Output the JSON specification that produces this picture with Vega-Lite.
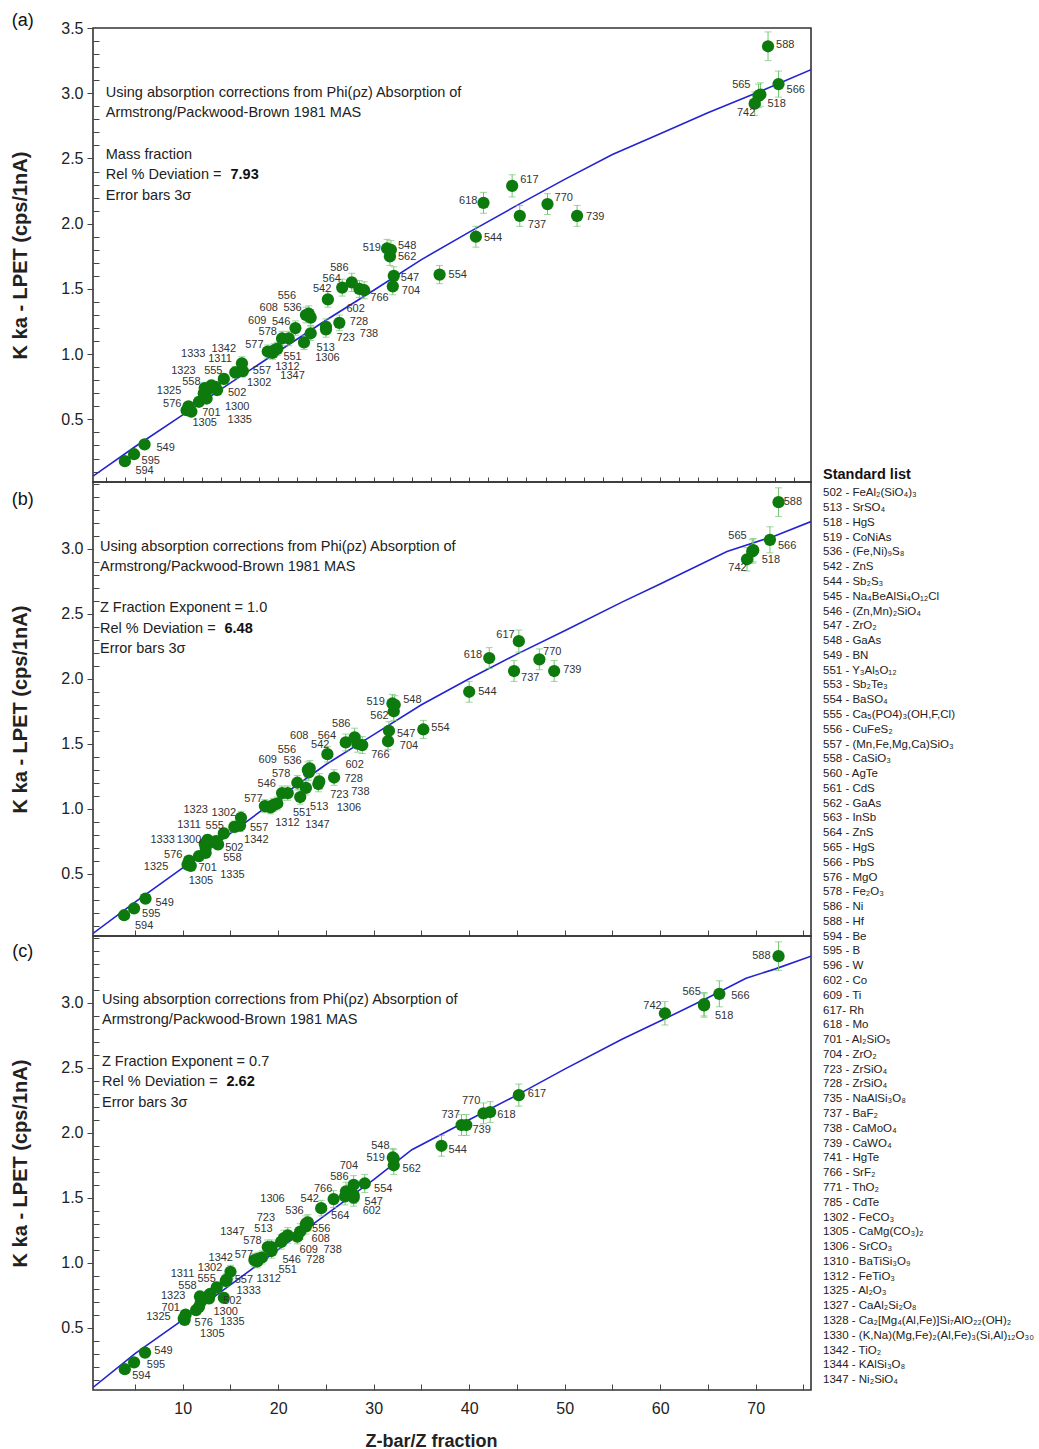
{
"$schema": "https://vega.github.io/schema/vega-lite/v6.json",
"background": "white",
"padding": {"left": 9, "top": 10, "right": 2, "bottom": 5},
"config": {
  "font": "Liberation Sans",
  "view": {"stroke": "#333", "strokeWidth": 1.6},
  "axis": {"labelFont": "Liberation Sans", "titleFont": "Liberation Sans", "labelColor": "#222", "titleColor": "#222", "tickColor": "#444", "grid": false, "domain": false, "labelFlush": false}
},
"datasets": {
  "curve": [
    {"p":"a","x":0.6,"y":0.065},{"p":"a","x":5,"y":0.29},{"p":"a","x":10,"y":0.535},{"p":"a","x":15,"y":0.78},{"p":"a","x":20,"y":1.02},{"p":"a","x":25,"y":1.26},{"p":"a","x":30,"y":1.49},{"p":"a","x":35,"y":1.725},{"p":"a","x":40,"y":1.935},{"p":"a","x":45,"y":2.14},{"p":"a","x":50,"y":2.34},{"p":"a","x":55,"y":2.53},{"p":"a","x":60,"y":2.69},{"p":"a","x":65,"y":2.85},{"p":"a","x":70,"y":3.0},{"p":"a","x":75.8,"y":3.18},
    {"p":"b","x":0.6,"y":0.04},{"p":"b","x":5,"y":0.28},{"p":"b","x":10,"y":0.545},{"p":"b","x":15,"y":0.81},{"p":"b","x":20,"y":1.08},{"p":"b","x":25,"y":1.34},{"p":"b","x":30,"y":1.57},{"p":"b","x":35,"y":1.8},{"p":"b","x":40,"y":2.0},{"p":"b","x":45,"y":2.19},{"p":"b","x":50,"y":2.37},{"p":"b","x":56,"y":2.59},{"p":"b","x":60,"y":2.73},{"p":"b","x":67,"y":2.98},{"p":"b","x":72,"y":3.1},{"p":"b","x":75.8,"y":3.21},
    {"p":"c","x":0.6,"y":0.04},{"p":"c","x":5,"y":0.3},{"p":"c","x":10,"y":0.56},{"p":"c","x":20,"y":1.1},{"p":"c","x":30,"y":1.64},{"p":"c","x":34,"y":1.87},{"p":"c","x":40,"y":2.1},{"p":"c","x":45,"y":2.29},{"p":"c","x":50,"y":2.49},{"p":"c","x":56,"y":2.72},{"p":"c","x":60,"y":2.86},{"p":"c","x":65,"y":3.04},{"p":"c","x":69,"y":3.19},{"p":"c","x":72,"y":3.26},{"p":"c","x":75.8,"y":3.36}
  ],
  "pts": [
    {"p":"a","id":"594","x":3.94,"y":0.18,"e":0.02,"lx":6.0,"ly":0.105},
    {"p":"a","id":"595","x":4.9,"y":0.233,"e":0.02,"lx":6.65,"ly":0.18},
    {"p":"a","id":"549","x":6.0,"y":0.308,"e":0.02,"lx":8.2,"ly":0.28},
    {"p":"a","id":"576","x":10.4,"y":0.57,"e":0.03,"lx":8.9,"ly":0.62},
    {"p":"a","id":"1325","x":10.6,"y":0.6,"e":0.03,"lx":8.57,"ly":0.72},
    {"p":"a","id":"1305","x":10.9,"y":0.56,"e":0.03,"lx":12.3,"ly":0.47},
    {"p":"a","id":"701","x":11.7,"y":0.635,"e":0.035,"lx":13.0,"ly":0.546},
    {"p":"a","id":"1323","x":12.2,"y":0.7,"e":0.035,"lx":10.07,"ly":0.874},
    {"p":"a","id":"558","x":12.3,"y":0.74,"e":0.04,"lx":10.9,"ly":0.785},
    {"p":"a","id":"1300","x":12.5,"y":0.66,"e":0.035,"lx":15.7,"ly":0.597},
    {"p":"a","id":"1333","x":12.6,"y":0.73,"e":0.04,"lx":11.1,"ly":1.0},
    {"p":"a","id":"1311","x":13.0,"y":0.76,"e":0.04,"lx":13.9,"ly":0.96},
    {"p":"a","id":"555","x":13.4,"y":0.75,"e":0.04,"lx":13.2,"ly":0.87},
    {"p":"a","id":"502","x":13.6,"y":0.725,"e":0.04,"lx":15.7,"ly":0.7},
    {"p":"a","id":"1335","x":14.3,"y":0.81,"e":0.04,"lx":15.97,"ly":0.495},
    {"p":"a","id":"1302","x":15.5,"y":0.86,"e":0.045,"lx":18.0,"ly":0.777},
    {"p":"a","id":"557","x":16.3,"y":0.87,"e":0.045,"lx":18.3,"ly":0.874},
    {"p":"a","id":"1342","x":16.2,"y":0.93,"e":0.05,"lx":14.3,"ly":1.043},
    {"p":"a","id":"577","x":18.9,"y":1.02,"e":0.05,"lx":17.5,"ly":1.07},
    {"p":"a","id":"551","x":19.4,"y":1.01,"e":0.05,"lx":21.5,"ly":0.977},
    {"p":"a","id":"1347","x":19.6,"y":1.03,"e":0.05,"lx":21.5,"ly":0.833},
    {"p":"a","id":"1312","x":19.9,"y":1.04,"e":0.05,"lx":20.96,"ly":0.905},
    {"p":"a","id":"578","x":20.4,"y":1.12,"e":0.055,"lx":18.9,"ly":1.166},
    {"p":"a","id":"546","x":21.1,"y":1.12,"e":0.055,"lx":20.3,"ly":1.25},
    {"p":"a","id":"609","x":21.8,"y":1.2,"e":0.055,"lx":17.8,"ly":1.256},
    {"p":"a","id":"513","x":22.7,"y":1.09,"e":0.055,"lx":24.97,"ly":1.046},
    {"p":"a","id":"608","x":22.9,"y":1.3,"e":0.06,"lx":19.0,"ly":1.354},
    {"p":"a","id":"536","x":23.2,"y":1.31,"e":0.06,"lx":21.5,"ly":1.354},
    {"p":"a","id":"556","x":23.4,"y":1.28,"e":0.06,"lx":20.9,"ly":1.448},
    {"p":"a","id":"1306","x":23.4,"y":1.16,"e":0.055,"lx":25.15,"ly":0.97},
    {"p":"a","id":"723","x":25.0,"y":1.19,"e":0.06,"lx":27.07,"ly":1.123},
    {"p":"a","id":"738","x":25.0,"y":1.21,"e":0.06,"lx":29.5,"ly":1.156},
    {"p":"a","id":"542","x":25.2,"y":1.42,"e":0.06,"lx":24.6,"ly":1.5},
    {"p":"a","id":"728","x":26.4,"y":1.24,"e":0.06,"lx":28.46,"ly":1.243},
    {"p":"a","id":"564","x":26.7,"y":1.51,"e":0.065,"lx":25.6,"ly":1.575},
    {"p":"a","id":"586","x":27.7,"y":1.55,"e":0.07,"lx":26.4,"ly":1.66},
    {"p":"a","id":"602","x":28.5,"y":1.5,"e":0.065,"lx":28.1,"ly":1.348},
    {"p":"a","id":"766","x":29.0,"y":1.49,"e":0.065,"lx":30.6,"ly":1.43},
    {"p":"a","id":"519","x":31.4,"y":1.81,"e":0.07,"lx":29.8,"ly":1.81},
    {"p":"a","id":"562","x":31.7,"y":1.75,"e":0.07,"lx":33.5,"ly":1.746},
    {"p":"a","id":"548","x":31.8,"y":1.8,"e":0.07,"lx":33.5,"ly":1.828},
    {"p":"a","id":"704","x":32.0,"y":1.52,"e":0.065,"lx":33.9,"ly":1.485},
    {"p":"a","id":"547","x":32.1,"y":1.6,"e":0.07,"lx":33.8,"ly":1.585},
    {"p":"a","id":"554","x":36.9,"y":1.61,"e":0.07,"lx":38.8,"ly":1.61},
    {"p":"a","id":"544","x":40.7,"y":1.9,"e":0.08,"lx":42.5,"ly":1.89},
    {"p":"a","id":"618","x":41.5,"y":2.16,"e":0.08,"lx":39.9,"ly":2.174},
    {"p":"a","id":"617","x":44.5,"y":2.29,"e":0.085,"lx":46.3,"ly":2.333},
    {"p":"a","id":"737","x":45.3,"y":2.06,"e":0.08,"lx":47.1,"ly":1.99},
    {"p":"a","id":"770","x":48.2,"y":2.15,"e":0.08,"lx":49.9,"ly":2.195},
    {"p":"a","id":"739","x":51.3,"y":2.06,"e":0.08,"lx":53.2,"ly":2.05},
    {"p":"a","id":"742","x":69.9,"y":2.92,"e":0.09,"lx":69.0,"ly":2.846},
    {"p":"a","id":"565","x":70.3,"y":2.98,"e":0.09,"lx":68.5,"ly":3.066},
    {"p":"a","id":"518","x":70.5,"y":2.99,"e":0.09,"lx":72.2,"ly":2.92},
    {"p":"a","id":"588","x":71.3,"y":3.36,"e":0.11,"lx":73.1,"ly":3.37},
    {"p":"a","id":"566","x":72.4,"y":3.07,"e":0.1,"lx":74.2,"ly":3.025},

    {"p":"b","id":"594","x":3.86,"y":0.18,"e":0.02,"lx":5.95,"ly":0.1},
    {"p":"b","id":"595","x":4.9,"y":0.233,"e":0.02,"lx":6.7,"ly":0.19},
    {"p":"b","id":"549","x":6.1,"y":0.308,"e":0.02,"lx":8.1,"ly":0.275},
    {"p":"b","id":"576","x":10.5,"y":0.57,"e":0.03,"lx":9.0,"ly":0.64},
    {"p":"b","id":"1325","x":10.66,"y":0.6,"e":0.03,"lx":7.2,"ly":0.55},
    {"p":"b","id":"1305","x":10.84,"y":0.56,"e":0.03,"lx":11.9,"ly":0.44},
    {"p":"b","id":"701","x":11.7,"y":0.635,"e":0.035,"lx":12.6,"ly":0.54},
    {"p":"b","id":"1323","x":12.4,"y":0.7,"e":0.035,"lx":11.36,"ly":0.992},
    {"p":"b","id":"558","x":13.4,"y":0.74,"e":0.04,"lx":15.2,"ly":0.62},
    {"p":"b","id":"1300","x":12.4,"y":0.66,"e":0.035,"lx":10.66,"ly":0.756},
    {"p":"b","id":"1333","x":12.3,"y":0.73,"e":0.04,"lx":7.9,"ly":0.756},
    {"p":"b","id":"1311","x":12.6,"y":0.76,"e":0.04,"lx":10.66,"ly":0.877},
    {"p":"b","id":"555","x":13.5,"y":0.75,"e":0.04,"lx":13.35,"ly":0.87},
    {"p":"b","id":"502","x":13.7,"y":0.725,"e":0.04,"lx":15.4,"ly":0.7},
    {"p":"b","id":"1335","x":14.3,"y":0.81,"e":0.04,"lx":15.2,"ly":0.487},
    {"p":"b","id":"1302","x":15.4,"y":0.86,"e":0.045,"lx":14.3,"ly":0.97},
    {"p":"b","id":"557","x":16.0,"y":0.87,"e":0.045,"lx":18.0,"ly":0.85},
    {"p":"b","id":"1342","x":16.1,"y":0.93,"e":0.05,"lx":17.7,"ly":0.756},
    {"p":"b","id":"577","x":18.6,"y":1.02,"e":0.05,"lx":17.4,"ly":1.077},
    {"p":"b","id":"551","x":19.2,"y":1.01,"e":0.05,"lx":22.5,"ly":0.967},
    {"p":"b","id":"1347","x":19.5,"y":1.03,"e":0.05,"lx":24.1,"ly":0.877},
    {"p":"b","id":"1312","x":19.9,"y":1.04,"e":0.05,"lx":20.96,"ly":0.89},
    {"p":"b","id":"578","x":20.4,"y":1.12,"e":0.055,"lx":20.3,"ly":1.27},
    {"p":"b","id":"546","x":21.0,"y":1.12,"e":0.055,"lx":18.8,"ly":1.19},
    {"p":"b","id":"609","x":22.0,"y":1.2,"e":0.055,"lx":18.9,"ly":1.377},
    {"p":"b","id":"513","x":22.3,"y":1.09,"e":0.055,"lx":24.3,"ly":1.013},
    {"p":"b","id":"608","x":23.1,"y":1.3,"e":0.06,"lx":22.2,"ly":1.56},
    {"p":"b","id":"536","x":23.3,"y":1.31,"e":0.06,"lx":21.5,"ly":1.37},
    {"p":"b","id":"556","x":23.2,"y":1.28,"e":0.06,"lx":20.9,"ly":1.45},
    {"p":"b","id":"1306","x":22.9,"y":1.16,"e":0.055,"lx":27.4,"ly":1.005},
    {"p":"b","id":"723","x":24.2,"y":1.19,"e":0.06,"lx":26.4,"ly":1.108},
    {"p":"b","id":"738","x":24.3,"y":1.21,"e":0.06,"lx":28.6,"ly":1.125},
    {"p":"b","id":"542","x":25.15,"y":1.42,"e":0.06,"lx":24.4,"ly":1.487},
    {"p":"b","id":"728","x":25.85,"y":1.24,"e":0.06,"lx":27.9,"ly":1.228},
    {"p":"b","id":"564","x":27.07,"y":1.51,"e":0.065,"lx":25.1,"ly":1.56},
    {"p":"b","id":"586","x":28.0,"y":1.55,"e":0.07,"lx":26.6,"ly":1.65},
    {"p":"b","id":"602","x":28.3,"y":1.5,"e":0.065,"lx":28.0,"ly":1.34},
    {"p":"b","id":"766","x":28.8,"y":1.49,"e":0.065,"lx":30.7,"ly":1.415},
    {"p":"b","id":"519","x":31.96,"y":1.81,"e":0.07,"lx":30.2,"ly":1.82},
    {"p":"b","id":"562","x":32.1,"y":1.75,"e":0.07,"lx":30.6,"ly":1.71},
    {"p":"b","id":"548","x":32.2,"y":1.8,"e":0.07,"lx":34.05,"ly":1.84},
    {"p":"b","id":"704","x":31.5,"y":1.52,"e":0.065,"lx":33.7,"ly":1.485},
    {"p":"b","id":"547","x":31.6,"y":1.6,"e":0.07,"lx":33.4,"ly":1.575},
    {"p":"b","id":"554","x":35.2,"y":1.61,"e":0.07,"lx":37.0,"ly":1.62},
    {"p":"b","id":"544","x":40.0,"y":1.9,"e":0.08,"lx":41.9,"ly":1.9},
    {"p":"b","id":"618","x":42.1,"y":2.16,"e":0.08,"lx":40.4,"ly":2.18},
    {"p":"b","id":"617","x":45.2,"y":2.29,"e":0.085,"lx":43.8,"ly":2.34},
    {"p":"b","id":"737","x":44.7,"y":2.06,"e":0.08,"lx":46.4,"ly":2.005},
    {"p":"b","id":"770","x":47.35,"y":2.15,"e":0.08,"lx":48.7,"ly":2.205},
    {"p":"b","id":"739","x":48.9,"y":2.06,"e":0.08,"lx":50.8,"ly":2.07},
    {"p":"b","id":"742","x":69.1,"y":2.92,"e":0.09,"lx":68.1,"ly":2.85},
    {"p":"b","id":"565","x":69.65,"y":2.98,"e":0.09,"lx":68.1,"ly":3.1},
    {"p":"b","id":"518","x":69.75,"y":2.99,"e":0.09,"lx":71.6,"ly":2.915},
    {"p":"b","id":"588","x":72.4,"y":3.36,"e":0.11,"lx":73.9,"ly":3.36},
    {"p":"b","id":"566","x":71.5,"y":3.07,"e":0.1,"lx":73.3,"ly":3.02},

    {"p":"c","id":"594","x":3.93,"y":0.18,"e":0.02,"lx":5.67,"ly":0.125},
    {"p":"c","id":"595","x":4.9,"y":0.233,"e":0.02,"lx":7.2,"ly":0.215},
    {"p":"c","id":"549","x":6.05,"y":0.308,"e":0.02,"lx":7.98,"ly":0.318},
    {"p":"c","id":"576","x":10.1,"y":0.57,"e":0.03,"lx":12.2,"ly":0.536},
    {"p":"c","id":"1325","x":10.3,"y":0.6,"e":0.03,"lx":7.45,"ly":0.58},
    {"p":"c","id":"1305","x":10.2,"y":0.56,"e":0.03,"lx":13.1,"ly":0.449},
    {"p":"c","id":"701","x":11.4,"y":0.635,"e":0.035,"lx":8.74,"ly":0.655},
    {"p":"c","id":"1323","x":11.9,"y":0.7,"e":0.035,"lx":9.0,"ly":0.745},
    {"p":"c","id":"558","x":11.8,"y":0.74,"e":0.04,"lx":10.5,"ly":0.82},
    {"p":"c","id":"1300","x":11.7,"y":0.66,"e":0.035,"lx":14.5,"ly":0.62},
    {"p":"c","id":"1333","x":14.3,"y":0.73,"e":0.04,"lx":16.9,"ly":0.78},
    {"p":"c","id":"1311","x":12.9,"y":0.76,"e":0.04,"lx":9.97,"ly":0.915},
    {"p":"c","id":"555","x":12.75,"y":0.75,"e":0.04,"lx":12.5,"ly":0.872},
    {"p":"c","id":"502","x":12.75,"y":0.725,"e":0.04,"lx":15.2,"ly":0.705},
    {"p":"c","id":"1335","x":13.56,"y":0.81,"e":0.04,"lx":15.2,"ly":0.544},
    {"p":"c","id":"1302","x":14.5,"y":0.86,"e":0.045,"lx":12.86,"ly":0.962},
    {"p":"c","id":"557","x":14.6,"y":0.87,"e":0.045,"lx":16.4,"ly":0.87},
    {"p":"c","id":"1342","x":15.0,"y":0.93,"e":0.05,"lx":13.98,"ly":1.038},
    {"p":"c","id":"577","x":17.5,"y":1.02,"e":0.05,"lx":16.4,"ly":1.06},
    {"p":"c","id":"551","x":17.8,"y":1.01,"e":0.05,"lx":21.0,"ly":0.945},
    {"p":"c","id":"1347","x":17.9,"y":1.03,"e":0.05,"lx":15.2,"ly":1.24},
    {"p":"c","id":"1312","x":18.3,"y":1.04,"e":0.05,"lx":19.0,"ly":0.875},
    {"p":"c","id":"578","x":18.9,"y":1.12,"e":0.055,"lx":17.3,"ly":1.164},
    {"p":"c","id":"546","x":19.3,"y":1.12,"e":0.055,"lx":21.4,"ly":1.023},
    {"p":"c","id":"609","x":22.0,"y":1.2,"e":0.055,"lx":23.2,"ly":1.1},
    {"p":"c","id":"513","x":19.3,"y":1.09,"e":0.055,"lx":18.45,"ly":1.256},
    {"p":"c","id":"608","x":22.9,"y":1.3,"e":0.06,"lx":24.45,"ly":1.185},
    {"p":"c","id":"536","x":23.1,"y":1.31,"e":0.06,"lx":21.7,"ly":1.395},
    {"p":"c","id":"556","x":22.9,"y":1.28,"e":0.06,"lx":24.5,"ly":1.26},
    {"p":"c","id":"1306","x":20.3,"y":1.16,"e":0.055,"lx":19.4,"ly":1.487},
    {"p":"c","id":"723","x":20.6,"y":1.19,"e":0.06,"lx":18.7,"ly":1.344},
    {"p":"c","id":"738","x":21.0,"y":1.21,"e":0.06,"lx":25.7,"ly":1.1},
    {"p":"c","id":"542","x":24.5,"y":1.42,"e":0.06,"lx":23.3,"ly":1.487},
    {"p":"c","id":"728","x":22.3,"y":1.24,"e":0.06,"lx":23.9,"ly":1.018},
    {"p":"c","id":"564","x":27.0,"y":1.51,"e":0.065,"lx":26.5,"ly":1.356},
    {"p":"c","id":"586","x":27.1,"y":1.55,"e":0.07,"lx":26.4,"ly":1.66},
    {"p":"c","id":"602","x":27.9,"y":1.5,"e":0.065,"lx":29.8,"ly":1.395},
    {"p":"c","id":"766","x":25.8,"y":1.49,"e":0.065,"lx":24.7,"ly":1.564},
    {"p":"c","id":"519","x":32.0,"y":1.81,"e":0.07,"lx":30.2,"ly":1.805},
    {"p":"c","id":"562","x":32.1,"y":1.75,"e":0.07,"lx":33.98,"ly":1.723},
    {"p":"c","id":"548","x":32.1,"y":1.8,"e":0.07,"lx":30.7,"ly":1.898},
    {"p":"c","id":"704","x":27.9,"y":1.52,"e":0.065,"lx":27.4,"ly":1.744},
    {"p":"c","id":"547","x":27.9,"y":1.6,"e":0.07,"lx":30.0,"ly":1.467},
    {"p":"c","id":"554","x":29.06,"y":1.61,"e":0.07,"lx":31.0,"ly":1.57},
    {"p":"c","id":"544","x":37.1,"y":1.9,"e":0.08,"lx":38.8,"ly":1.87},
    {"p":"c","id":"618","x":42.2,"y":2.16,"e":0.08,"lx":43.9,"ly":2.138},
    {"p":"c","id":"617","x":45.2,"y":2.29,"e":0.085,"lx":47.1,"ly":2.295},
    {"p":"c","id":"737","x":39.2,"y":2.06,"e":0.08,"lx":38.06,"ly":2.14},
    {"p":"c","id":"770","x":41.5,"y":2.15,"e":0.08,"lx":40.2,"ly":2.244},
    {"p":"c","id":"739","x":39.7,"y":2.06,"e":0.08,"lx":41.3,"ly":2.018},
    {"p":"c","id":"742","x":60.5,"y":2.92,"e":0.09,"lx":59.2,"ly":2.975},
    {"p":"c","id":"565","x":64.6,"y":2.98,"e":0.09,"lx":63.3,"ly":3.087},
    {"p":"c","id":"518","x":64.6,"y":2.99,"e":0.09,"lx":66.7,"ly":2.9},
    {"p":"c","id":"588","x":72.4,"y":3.36,"e":0.11,"lx":70.6,"ly":3.364},
    {"p":"c","id":"566","x":66.2,"y":3.07,"e":0.1,"lx":68.4,"ly":3.05}
  ],
  "notes": [
    {"p":"a","x":1.94,"y":3.002,"t":"Using absorption corrections from Phi(ρz) Absorption of"},
    {"p":"a","x":1.94,"y":2.848,"t":"Armstrong/Packwood-Brown 1981 MAS"},
    {"p":"a","x":1.94,"y":2.525,"t":"Mass fraction"},
    {"p":"a","x":1.94,"y":2.372,"t":"Rel % Deviation = "},
    {"p":"a","x":1.94,"y":2.21,"t":"Error bars 3σ"},
    {"p":"b","x":1.33,"y":3.015,"t":"Using absorption corrections from Phi(ρz) Absorption of"},
    {"p":"b","x":1.33,"y":2.86,"t":"Armstrong/Packwood-Brown 1981 MAS"},
    {"p":"b","x":1.33,"y":2.546,"t":"Z Fraction Exponent = 1.0"},
    {"p":"b","x":1.33,"y":2.385,"t":"Rel % Deviation = "},
    {"p":"b","x":1.33,"y":2.23,"t":"Error bars 3σ"},
    {"p":"c","x":1.54,"y":3.023,"t":"Using absorption corrections from Phi(ρz) Absorption of"},
    {"p":"c","x":1.54,"y":2.87,"t":"Armstrong/Packwood-Brown 1981 MAS"},
    {"p":"c","x":1.54,"y":2.546,"t":"Z Fraction Exponent = 0.7"},
    {"p":"c","x":1.54,"y":2.39,"t":"Rel % Deviation = "},
    {"p":"c","x":1.54,"y":2.23,"t":"Error bars 3σ"}
  ],
  "bold": [
    {"p":"a","x":15.0,"y":2.372,"t":"7.93"},
    {"p":"b","x":14.37,"y":2.385,"t":"6.48"},
    {"p":"c","x":14.58,"y":2.39,"t":"2.62"}
  ],
  "letters": [
    {"p":"a","x":-6.75,"y":3.556,"t":"(a)"},
    {"p":"b","x":-6.75,"y":3.377,"t":"(b)"},
    {"p":"c","x":-6.75,"y":3.392,"t":"(c)"}
  ],
  "head": [{"c":0,"r":-0.24,"t":"Standard list"}],
  "list": [
    {"c":0,"r":1,"t":"502 - FeAl₂(SiO₄)₃"},
    {"c":0,"r":2,"t":"513 - SrSO₄"},
    {"c":0,"r":3,"t":"518 - HgS"},
    {"c":0,"r":4,"t":"519 - CoNiAs"},
    {"c":0,"r":5,"t":"536 - (Fe,Ni)₉S₈"},
    {"c":0,"r":6,"t":"542 - ZnS"},
    {"c":0,"r":7,"t":"544 - Sb₂S₃"},
    {"c":0,"r":8,"t":"545 - Na₄BeAlSi₄O₁₂Cl"},
    {"c":0,"r":9,"t":"546 - (Zn,Mn)₂SiO₄"},
    {"c":0,"r":10,"t":"547 - ZrO₂"},
    {"c":0,"r":11,"t":"548 - GaAs"},
    {"c":0,"r":12,"t":"549 - BN"},
    {"c":0,"r":13,"t":"551 - Y₃Al₅O₁₂"},
    {"c":0,"r":14,"t":"553 - Sb₂Te₃"},
    {"c":0,"r":15,"t":"554 - BaSO₄"},
    {"c":0,"r":16,"t":"555 - Ca₅(PO4)₃(OH,F,Cl)"},
    {"c":0,"r":17,"t":"556 - CuFeS₂"},
    {"c":0,"r":18,"t":"557 - (Mn,Fe,Mg,Ca)SiO₃"},
    {"c":0,"r":19,"t":"558 - CaSiO₃"},
    {"c":0,"r":20,"t":"560 - AgTe"},
    {"c":0,"r":21,"t":"561 - CdS"},
    {"c":0,"r":22,"t":"562 - GaAs"},
    {"c":0,"r":23,"t":"563 - InSb"},
    {"c":0,"r":24,"t":"564 - ZnS"},
    {"c":0,"r":25,"t":"565 - HgS"},
    {"c":0,"r":26,"t":"566 - PbS"},
    {"c":0,"r":27,"t":"576 - MgO"},
    {"c":0,"r":28,"t":"578 - Fe₂O₃"},
    {"c":0,"r":29,"t":"586 - Ni"},
    {"c":0,"r":30,"t":"588 - Hf"},
    {"c":0,"r":31,"t":"594 - Be"},
    {"c":0,"r":32,"t":"595 - B"},
    {"c":0,"r":33,"t":"596 - W"},
    {"c":0,"r":34,"t":"602 - Co"},
    {"c":0,"r":35,"t":"609 - Ti"},
    {"c":0,"r":36,"t":"617- Rh"},
    {"c":0,"r":37,"t":"618 - Mo"},
    {"c":0,"r":38,"t":"701 - Al₂SiO₅"},
    {"c":0,"r":39,"t":"704 - ZrO₂"},
    {"c":0,"r":40,"t":"723 - ZrSiO₄"},
    {"c":0,"r":41,"t":"728 - ZrSiO₄"},
    {"c":0,"r":42,"t":"735 - NaAlSi₃O₈"},
    {"c":0,"r":43,"t":"737 - BaF₂"},
    {"c":0,"r":44,"t":"738 - CaMoO₄"},
    {"c":0,"r":45,"t":"739 - CaWO₄"},
    {"c":0,"r":46,"t":"741 - HgTe"},
    {"c":0,"r":47,"t":"766 - SrF₂"},
    {"c":0,"r":48,"t":"771 - ThO₂"},
    {"c":0,"r":49,"t":"785 - CdTe"},
    {"c":0,"r":50,"t":"1302 - FeCO₃"},
    {"c":0,"r":51,"t":"1305 - CaMg(CO₃)₂"},
    {"c":0,"r":52,"t":"1306 - SrCO₃"},
    {"c":0,"r":53,"t":"1310 - BaTiSi₃O₉"},
    {"c":0,"r":54,"t":"1312 - FeTiO₃"},
    {"c":0,"r":55,"t":"1325 - Al₂O₃"},
    {"c":0,"r":56,"t":"1327 - CaAl₂Si₂O₈"},
    {"c":0,"r":57,"t":"1328 - Ca₂[Mg₄(Al,Fe)]Si₇AlO₂₂(OH)₂"},
    {"c":0,"r":58,"t":"1330 - (K,Na)(Mg,Fe)₂(Al,Fe)₃(Si,Al)₁₂O₃₀"},
    {"c":0,"r":59,"t":"1342 - TiO₂"},
    {"c":0,"r":60,"t":"1344 - KAlSi₃O₈"},
    {"c":0,"r":61,"t":"1347 - Ni₂SiO₄"}
  ]
},
"spacing": 11,
"hconcat": [
 {
  "spacing": 0,
  "bounds": "flush",
  "resolve": {"scale": {"x": "independent", "y": "independent"}},
  "vconcat": [
   {
    "width": 718, "height": 454,
    "resolve": {"axis": {"x": "independent", "y": "independent"}},
    "layer": [
     {"data": {"name": "curve"}, "transform": [{"filter": "datum.p == 'a'"}],
      "mark": {"type": "line", "color": "#2323d2", "strokeWidth": 1.6, "clip": true},
      "encoding": {
        "x": {"field": "x", "type": "quantitative", "scale": {"domain": [0.6, 75.8], "nice": false, "zero": false},
              "axis": {"orient": "bottom", "values": [2,4,6,8,10,12,14,16,18,20,22,24,26,28,30,32,34,36,38,40,42,44,46,48,50,52,54,56,58,60,62,64,66,68,70,72,74], "labels": false, "tickSize": -5, "title": null}},
        "y": {"field": "y", "type": "quantitative", "scale": {"domain": [0.02, 3.5], "nice": false, "zero": false},
              "axis": {"orient": "left", "values": [0.1,0.2,0.3,0.4,0.6,0.7,0.8,0.9,1.1,1.2,1.3,1.4,1.6,1.7,1.8,1.9,2.1,2.2,2.3,2.4,2.6,2.7,2.8,2.9,3.1,3.2,3.3,3.4], "labels": false, "tickSize": -6, "title": null}}
      }},
     {"data": {"name": "pts"}, "transform": [{"filter": "datum.p == 'a'"}],
      "mark": {"type": "errorbar", "color": "#74c474", "thickness": 1, "ticks": {"color": "#74c474", "size": 7}},
      "encoding": {
        "x": {"field": "x", "type": "quantitative", "axis": null},
        "y": {"field": "y", "type": "quantitative", "axis": null},
        "yError": {"field": "e"}
      }},
     {"data": {"name": "pts"}, "transform": [{"filter": "datum.p == 'a'"}],
      "mark": {"type": "circle", "size": 150, "color": "#0d7a0d", "opacity": 1},
      "encoding": {
        "x": {"field": "x", "type": "quantitative", "axis": null},
        "y": {"field": "y", "type": "quantitative",
              "axis": {"orient": "left", "values": [0.5,1,1.5,2,2.5,3,3.5], "format": ".1f", "labelFontSize": 16, "tickSize": 6, "labelPadding": 4, "title": "K ka - LPET  (cps/1nA)", "titleFontSize": 20, "titleFontWeight": "bold", "titlePadding": 30}}
      }},
     {"data": {"name": "pts"}, "transform": [{"filter": "datum.p == 'a'"}],
      "mark": {"type": "text", "fontSize": 11, "color": "#333"},
      "encoding": {
        "x": {"field": "lx", "type": "quantitative", "axis": null},
        "y": {"field": "ly", "type": "quantitative", "axis": null},
        "text": {"field": "id"}
      }},
     {"data": {"name": "notes"}, "transform": [{"filter": "datum.p == 'a'"}],
      "mark": {"type": "text", "fontSize": 14.5, "align": "left", "baseline": "middle", "color": "#222"},
      "encoding": {
        "x": {"field": "x", "type": "quantitative", "axis": null},
        "y": {"field": "y", "type": "quantitative", "axis": null},
        "text": {"field": "t"}
      }},
     {"data": {"name": "bold"}, "transform": [{"filter": "datum.p == 'a'"}],
      "mark": {"type": "text", "fontSize": 14.5, "fontWeight": "bold", "align": "left", "baseline": "middle", "color": "#111"},
      "encoding": {
        "x": {"field": "x", "type": "quantitative", "axis": null},
        "y": {"field": "y", "type": "quantitative", "axis": null},
        "text": {"field": "t"}
      }},
     {"data": {"name": "letters"}, "transform": [{"filter": "datum.p == 'a'"}],
      "mark": {"type": "text", "fontSize": 18, "align": "center", "baseline": "middle", "color": "#111"},
      "encoding": {
        "x": {"field": "x", "type": "quantitative", "axis": null},
        "y": {"field": "y", "type": "quantitative", "axis": null},
        "text": {"field": "t"}
      }}
    ]
   },
   {
    "width": 718, "height": 454,
    "resolve": {"axis": {"x": "independent", "y": "independent"}},
    "layer": [
     {"data": {"name": "curve"}, "transform": [{"filter": "datum.p == 'b'"}],
      "mark": {"type": "line", "color": "#2323d2", "strokeWidth": 1.6, "clip": true},
      "encoding": {
        "x": {"field": "x", "type": "quantitative", "scale": {"domain": [0.6, 75.8], "nice": false, "zero": false},
              "axis": {"orient": "bottom", "values": [5,10,15,20,25,30,35,40,45,50,55,60,65,70,75], "labels": false, "tickSize": -6, "title": null}},
        "y": {"field": "y", "type": "quantitative", "scale": {"domain": [0.02, 3.515], "nice": false, "zero": false},
              "axis": {"orient": "left", "values": [0.1,0.2,0.3,0.4,0.6,0.7,0.8,0.9,1.1,1.2,1.3,1.4,1.6,1.7,1.8,1.9,2.1,2.2,2.3,2.4,2.6,2.7,2.8,2.9,3.1,3.2,3.3,3.4,3.5], "labels": false, "tickSize": -6, "title": null}}
      }},
     {"data": {"name": "pts"}, "transform": [{"filter": "datum.p == 'b'"}],
      "mark": {"type": "errorbar", "color": "#74c474", "thickness": 1, "ticks": {"color": "#74c474", "size": 7}},
      "encoding": {
        "x": {"field": "x", "type": "quantitative", "axis": null},
        "y": {"field": "y", "type": "quantitative", "axis": null},
        "yError": {"field": "e"}
      }},
     {"data": {"name": "pts"}, "transform": [{"filter": "datum.p == 'b'"}],
      "mark": {"type": "circle", "size": 150, "color": "#0d7a0d", "opacity": 1},
      "encoding": {
        "x": {"field": "x", "type": "quantitative", "axis": null},
        "y": {"field": "y", "type": "quantitative",
              "axis": {"orient": "left", "values": [0.5,1,1.5,2,2.5,3], "format": ".1f", "labelFontSize": 16, "tickSize": 6, "labelPadding": 4, "title": "K ka - LPET  (cps/1nA)", "titleFontSize": 20, "titleFontWeight": "bold", "titlePadding": 30}}
      }},
     {"data": {"name": "pts"}, "transform": [{"filter": "datum.p == 'b'"}],
      "mark": {"type": "text", "fontSize": 11, "color": "#333"},
      "encoding": {
        "x": {"field": "lx", "type": "quantitative", "axis": null},
        "y": {"field": "ly", "type": "quantitative", "axis": null},
        "text": {"field": "id"}
      }},
     {"data": {"name": "notes"}, "transform": [{"filter": "datum.p == 'b'"}],
      "mark": {"type": "text", "fontSize": 14.5, "align": "left", "baseline": "middle", "color": "#222"},
      "encoding": {
        "x": {"field": "x", "type": "quantitative", "axis": null},
        "y": {"field": "y", "type": "quantitative", "axis": null},
        "text": {"field": "t"}
      }},
     {"data": {"name": "bold"}, "transform": [{"filter": "datum.p == 'b'"}],
      "mark": {"type": "text", "fontSize": 14.5, "fontWeight": "bold", "align": "left", "baseline": "middle", "color": "#111"},
      "encoding": {
        "x": {"field": "x", "type": "quantitative", "axis": null},
        "y": {"field": "y", "type": "quantitative", "axis": null},
        "text": {"field": "t"}
      }},
     {"data": {"name": "letters"}, "transform": [{"filter": "datum.p == 'b'"}],
      "mark": {"type": "text", "fontSize": 18, "align": "center", "baseline": "middle", "color": "#111"},
      "encoding": {
        "x": {"field": "x", "type": "quantitative", "axis": null},
        "y": {"field": "y", "type": "quantitative", "axis": null},
        "text": {"field": "t"}
      }}
    ]
   },
   {
    "width": 718, "height": 454,
    "resolve": {"axis": {"x": "independent", "y": "independent"}},
    "layer": [
     {"data": {"name": "curve"}, "transform": [{"filter": "datum.p == 'c'"}],
      "mark": {"type": "line", "color": "#2323d2", "strokeWidth": 1.6, "clip": true},
      "encoding": {
        "x": {"field": "x", "type": "quantitative", "scale": {"domain": [0.6, 75.8], "nice": false, "zero": false},
              "axis": {"orient": "bottom", "values": [5,10,15,20,25,30,35,40,45,50,55,60,65,70,75], "labelExpr": "datum.value % 10 === 0 ? datum.label : ''", "labelFontSize": 16, "labelPadding": 16, "tickSize": -6, "title": "Z-bar/Z fraction", "titleFontSize": 18, "titleFontWeight": "bold", "titlePadding": 16, "titleX": 338}},
        "y": {"field": "y", "type": "quantitative", "scale": {"domain": [0.02, 3.515], "nice": false, "zero": false},
              "axis": {"orient": "left", "values": [0.1,0.2,0.3,0.4,0.6,0.7,0.8,0.9,1.1,1.2,1.3,1.4,1.6,1.7,1.8,1.9,2.1,2.2,2.3,2.4,2.6,2.7,2.8,2.9,3.1,3.2,3.3,3.4,3.5], "labels": false, "tickSize": -6, "title": null}}
      }},
     {"data": {"name": "pts"}, "transform": [{"filter": "datum.p == 'c'"}],
      "mark": {"type": "errorbar", "color": "#74c474", "thickness": 1, "ticks": {"color": "#74c474", "size": 7}},
      "encoding": {
        "x": {"field": "x", "type": "quantitative", "axis": null},
        "y": {"field": "y", "type": "quantitative", "axis": null},
        "yError": {"field": "e"}
      }},
     {"data": {"name": "pts"}, "transform": [{"filter": "datum.p == 'c'"}],
      "mark": {"type": "circle", "size": 150, "color": "#0d7a0d", "opacity": 1},
      "encoding": {
        "x": {"field": "x", "type": "quantitative", "axis": null},
        "y": {"field": "y", "type": "quantitative",
              "axis": {"orient": "left", "values": [0.5,1,1.5,2,2.5,3], "format": ".1f", "labelFontSize": 16, "tickSize": 6, "labelPadding": 4, "title": "K ka - LPET  (cps/1nA)", "titleFontSize": 20, "titleFontWeight": "bold", "titlePadding": 30}}
      }},
     {"data": {"name": "pts"}, "transform": [{"filter": "datum.p == 'c'"}],
      "mark": {"type": "text", "fontSize": 11, "color": "#333"},
      "encoding": {
        "x": {"field": "lx", "type": "quantitative", "axis": null},
        "y": {"field": "ly", "type": "quantitative", "axis": null},
        "text": {"field": "id"}
      }},
     {"data": {"name": "notes"}, "transform": [{"filter": "datum.p == 'c'"}],
      "mark": {"type": "text", "fontSize": 14.5, "align": "left", "baseline": "middle", "color": "#222"},
      "encoding": {
        "x": {"field": "x", "type": "quantitative", "axis": null},
        "y": {"field": "y", "type": "quantitative", "axis": null},
        "text": {"field": "t"}
      }},
     {"data": {"name": "bold"}, "transform": [{"filter": "datum.p == 'c'"}],
      "mark": {"type": "text", "fontSize": 14.5, "fontWeight": "bold", "align": "left", "baseline": "middle", "color": "#111"},
      "encoding": {
        "x": {"field": "x", "type": "quantitative", "axis": null},
        "y": {"field": "y", "type": "quantitative", "axis": null},
        "text": {"field": "t"}
      }},
     {"data": {"name": "letters"}, "transform": [{"filter": "datum.p == 'c'"}],
      "mark": {"type": "text", "fontSize": 18, "align": "center", "baseline": "middle", "color": "#111"},
      "encoding": {
        "x": {"field": "x", "type": "quantitative", "axis": null},
        "y": {"field": "y", "type": "quantitative", "axis": null},
        "text": {"field": "t"}
      }}
    ]
   }
  ]
 },
 {
  "width": 215, "height": 1362,
  "view": {"stroke": null},
  "layer": [
   {"data": {"name": "head"},
    "mark": {"type": "text", "fontSize": 14.5, "fontWeight": "bold", "align": "left", "baseline": "middle", "color": "#111"},
    "encoding": {
      "x": {"field": "c", "type": "quantitative", "scale": {"domain": [0, 1], "nice": false, "zero": false}, "axis": null},
      "y": {"field": "r", "type": "quantitative", "scale": {"domain": [-30.48, 61.67], "reverse": true, "nice": false, "zero": false}, "axis": null},
      "text": {"field": "t"}
    }},
   {"data": {"name": "list"},
    "mark": {"type": "text", "fontSize": 11.5, "align": "left", "baseline": "middle", "color": "#222"},
    "encoding": {
      "x": {"field": "c", "type": "quantitative", "axis": null},
      "y": {"field": "r", "type": "quantitative", "axis": null},
      "text": {"field": "t"}
    }}
  ]
 }
]
}
